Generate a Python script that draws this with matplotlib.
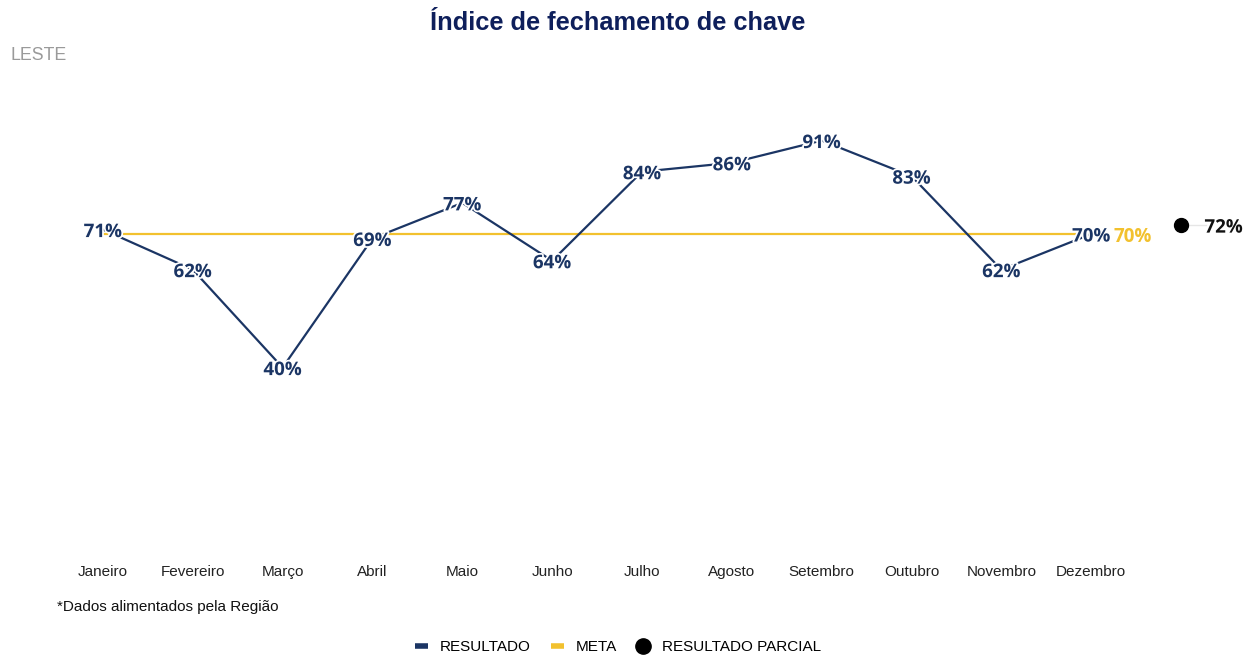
import matplotlib
matplotlib.use("Agg")
import matplotlib.pyplot as plt
import matplotlib.patheffects as pe
from matplotlib.lines import Line2D

months = ["Janeiro", "Fevereiro", "Março", "Abril", "Maio", "Junho", "Julho",
          "Agosto", "Setembro", "Outubro", "Novembro", "Dezembro"]
resultado = [71, 62, 40, 69, 77, 64, 84, 86, 91, 83, 62, 70]
meta = [70] * 12
resultado_parcial = 72

NAVY = "#1b3564"
YELLOW = "#f2c12e"

fig = plt.figure(figsize=(12.54, 6.58), dpi=100)
W, H = 1254, 658
left, right, top, bottom = 58, 1226, 80, 555
ax = fig.add_axes([left / W, 1 - bottom / H, (right - left) / W, (bottom - top) / H])

x = list(range(len(months)))
ax.plot(x, meta, color=YELLOW, lw=1.6, zorder=2)
ax.plot(x, resultado, color=NAVY, lw=1.6, zorder=3)

halo = [pe.withStroke(linewidth=2.5, foreground="white")]
for xi, v in zip(x, resultado):
    ax.text(xi, v, f"{v}%", ha="center", va="center_baseline", color=NAVY, fontsize=13.5,
            fontweight="bold", family="Open Sans", path_effects=halo, zorder=5)

ax.text(len(months) - 1 + 0.25, meta[-1], f"{meta[-1]}%", ha="left", va="center_baseline",
        color=YELLOW, fontsize=13.5, fontweight="bold", family="Open Sans", zorder=5)

px = len(months)
ax.plot([px, px + 0.28], [resultado_parcial] * 2, color="#e6e6e6", lw=1, zorder=3)
ax.plot([px], [resultado_parcial], "o", color="black", ms=10, zorder=4)
ax.text(px + 0.26, resultado_parcial, f"{resultado_parcial}%", ha="left", va="center_baseline",
        color="#111111", fontsize=13.5, fontweight="bold", family="Open Sans",
        path_effects=halo, zorder=5)

ax.set_xlim(-0.5, 12.5)
ax.set_ylim(-2.1, 104.6)
ax.set_xticks(x)
ax.set_xticklabels(months, fontsize=11, family="Liberation Sans", color="#222222")
ax.tick_params(axis="x", length=0, pad=7)
ax.set_yticks([])
for s in ax.spines.values():
    s.set_visible(False)

fig.text(618 / W, 1 - 23 / H, "Índice de fechamento de chave", ha="center", va="center",
         fontsize=18.3, fontweight="bold", color="#0e1f5b", family="Liberation Sans")
fig.text(11 / W, 1 - 55 / H, "LESTE", ha="left", va="center", fontsize=12.8,
         color="#9a9a9a", family="Liberation Sans")
fig.text(57 / W, 1 - 607 / H, "*Dados alimentados pela Região", ha="left", va="center",
         fontsize=11, color="#111111", family="Liberation Sans")

handles = [
    Line2D([], [], color=NAVY, lw=4, solid_capstyle="butt"),
    Line2D([], [], color=YELLOW, lw=4, solid_capstyle="butt"),
    Line2D([], [], marker="o", color="black", ls="none", ms=11),
]
fig.legend(handles, ["RESULTADO", "META", "RESULTADO PARCIAL"], loc="center",
           bbox_to_anchor=(618 / W, 1 - 647 / H), ncol=3, frameon=False,
           handlelength=0.85, handletextpad=0.8, columnspacing=1.3,
           prop={"family": "Liberation Sans", "size": 11})

fig.savefig("out.png", dpi=100, facecolor="white")
